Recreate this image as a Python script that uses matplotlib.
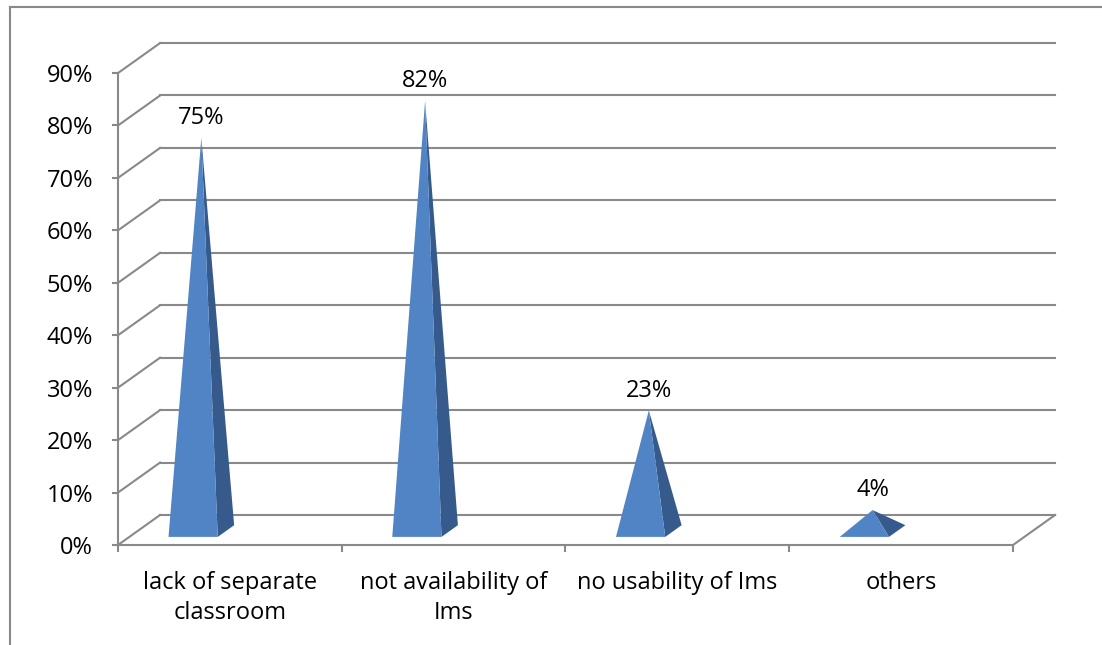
import matplotlib.pyplot as plt
from matplotlib.lines import Line2D
from matplotlib.patches import Polygon

plt.rcParams["font.family"] = ["Open Sans", "DejaVu Sans"]

categories = ["lack of separate\nclassroom", "not availability of\nIms",
              "no usability of Ims", "others"]
values = [75, 82, 23, 4]
y_ticks = list(range(0, 100, 10))

GRID = "#898989"
FRONT = "#5084C5"
SIDE = "#365A8B"

# oblique depth vector in data units (x: categories, y: percent)
DX, DY = 0.188, 5.72
# pyramid base: offset in category, half width, depth range
CX_OFF, HW = 0.285, 0.11
Z0, Z1 = 0.27, 0.66
ZC = (Z0 + Z1) / 2


def proj(x, y, z):
    return x + z * DX, y + z * DY


def draw_frame(ax):
    n = len(categories)
    for v in y_ticks:
        # back wall line and left wall diagonal
        x0, y0 = proj(0, v, 1)
        x1, y1 = proj(n, v, 1)
        ax.plot([x0, x1], [y0, y1], color=GRID, lw=1.5, zorder=1)
        ax.plot([0, x0], [v, y0], color=GRID, lw=1.5, zorder=1)
    # floor right edge
    xr, yr = proj(n, 0, 1)
    ax.plot([n, xr], [0, yr], color=GRID, lw=1.5, zorder=1)


def draw_pyramid(ax, i, v):
    cx = i + CX_OFF
    fl = proj(cx - HW, 0, Z0)
    fr = proj(cx + HW, 0, Z0)
    br = proj(cx + HW, 0, Z1)
    apex = proj(cx, v, ZC)
    ax.add_patch(Polygon([fr, br, apex], closed=True, facecolor=SIDE,
                         edgecolor="none", zorder=3))
    ax.add_patch(Polygon([fl, fr, apex], closed=True, facecolor=FRONT,
                         edgecolor="none", zorder=4))
    ax.text(apex[0], apex[1] + 3.8, f"{v}%", ha="center", va="center",
            fontsize=17, color="black", zorder=5)


def main():
    fig = plt.figure(figsize=(11.02, 6.45), dpi=100)
    ax = fig.add_axes([0, 0, 1, 1])
    ax.set_xlim(-0.5274, 4.3978)
    ax.set_ylim(-19.07, 103.93)
    ax.patch.set_visible(False)

    draw_frame(ax)
    for i, v in enumerate(values):
        draw_pyramid(ax, i, v)

    n = len(categories)
    for side in ["top", "right"]:
        ax.spines[side].set_visible(False)
    ax.spines["left"].set_position(("data", 0))
    ax.spines["left"].set_bounds(0, 90)
    ax.spines["bottom"].set_position(("data", 0))
    ax.spines["bottom"].set_bounds(0, n)
    for side in ["left", "bottom"]:
        ax.spines[side].set_color(GRID)
        ax.spines[side].set_linewidth(1.5)

    ax.set_yticks(y_ticks)
    ax.set_yticklabels([f"{v}%" for v in y_ticks])
    ax.tick_params(axis="y", direction="out", length=4, width=1.5,
                   color=GRID, pad=14, labelsize=17)
    ax.set_xticks(range(n + 1))
    ax.set_xticklabels([""] * (n + 1))
    ax.tick_params(axis="x", which="major", direction="out", length=5,
                   width=1.5, color=GRID)
    ax.set_xticks([i + 0.5 for i in range(n)], minor=True)
    ax.set_xticklabels(categories, minor=True, linespacing=1.33)
    ax.tick_params(axis="x", which="minor", length=0, pad=19, labelsize=17)

    # chart area border
    fig.add_artist(Line2D([10 / 1102, 10 / 1102], [0, 1 - 7 / 645],
                          transform=fig.transFigure, color=GRID, lw=1.5))
    fig.add_artist(Line2D([10 / 1102, 1], [1 - 7 / 645, 1 - 7 / 645],
                          transform=fig.transFigure, color=GRID, lw=1.5))

    fig.savefig("out.png", dpi=100, facecolor="white")


if __name__ == "__main__":
    main()
